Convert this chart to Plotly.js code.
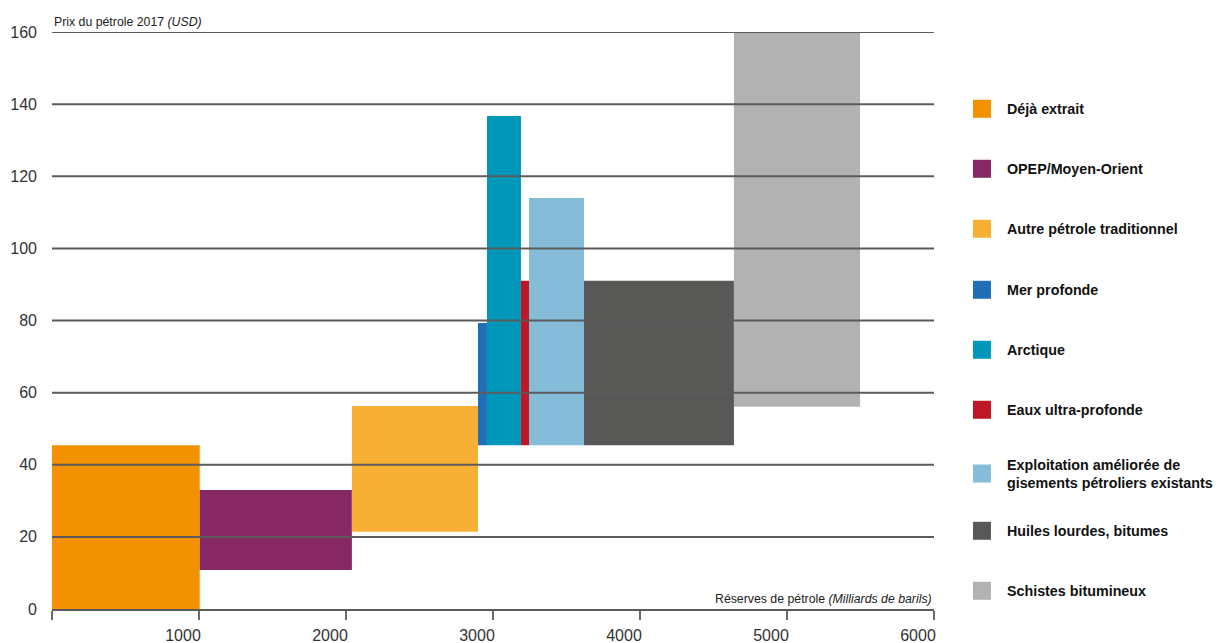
<!DOCTYPE html>
<html><head><meta charset="utf-8">
<script src="https://cdn.plot.ly/plotly-3.0.1.min.js"></script>
<style>body{margin:0;background:#fff}</style>
</head><body><div id="chart" style="width:1220px;height:643px"></div>
<script>
const categories = ['Déjà extrait', 'OPEP/Moyen-Orient', 'Autre pétrole traditionnel', 'Mer profonde', 'Arctique', 'Eaux ultra-profonde', 'Exploitation améliorée de<br>gisements pétroliers existants', 'Huiles lourdes, bitumes', 'Schistes bitumineux'];
const reserves = [1005, 1035, 858, 61, 231, 55, 374, 1020, 858];
const priceLow = [0, 10.8, 21.4, 45.4, 45.4, 45.4, 45.4, 45.4, 56.1];
const priceHigh = [45.4, 33.0, 56.3, 79.3, 136.7, 91.0, 114.0, 91.0, 160];
const colors = ['#F39200', '#872864', '#F7B033', '#1F6EB7', '#0098BA', '#C01727', '#85BCD7', '#585856', '#B2B2B2'];
const xTickVals = [0, 1000, 2000, 3000, 4000, 5000, 6000];
const xTickText = ['', '1000', '2000', '3000', '4000', '5000', '6000'];
const yTickVals = [0, 20, 40, 60, 80, 100, 120, 140, 160];
const legendY = [0.8305, 0.7372, 0.6439, 0.5490, 0.4557, 0.3624, 0.2628, 0.1742, 0.0809];

const FONT = "'Liberation Sans Narrow', 'Arial Narrow', 'Liberation Sans', Arial, sans-serif";

let cum = 0;
const traces = categories.map((name, i) => {
  const x0 = cum; cum += reserves[i];
  return {
    type: 'bar', name: name,
    x: [x0 + reserves[i] / 2], width: [reserves[i]],
    base: [priceLow[i]], y: [priceHigh[i] - priceLow[i]],
    marker: {color: colors[i], line: {width: 0}},
    legend: i === 0 ? 'legend' : 'legend' + (i + 1),
    hoverinfo: 'name'
  };
});

const layout = {
  width: 1220, height: 643,
  margin: {l: 52, r: 286, t: 32, b: 34, autoexpand: false},
  paper_bgcolor: '#fff', plot_bgcolor: '#fff',
  barmode: 'overlay',
  font: {family: FONT, color: '#333'},
  xaxis: {
    range: [0, 6000], tickvals: xTickVals, ticktext: xTickText,
    ticks: 'outside', ticklen: 9, tickwidth: 2, tickcolor: '#6a6a6a',
    showgrid: false, zeroline: false,
    showline: true, linecolor: '#5b5b5b', linewidth: 2,
    tickfont: {size: 16, color: '#333'},
    ticklabelshift: -16, ticklabelstandoff: 2,
    layer: 'above traces', fixedrange: true
  },
  yaxis: {
    range: [0, 160], tickvals: yTickVals,
    ticks: '', showgrid: false, zeroline: false, showline: false,
    tickfont: {size: 16, color: '#333'},
    ticklabelstandoff: 14, fixedrange: true
  },
  shapes: yTickVals.filter(v => v > 0).map(v => ({
    type: 'line', xref: 'paper', x0: 0, x1: 1, yref: 'y', y0: v, y1: v,
    line: {color: '#5b5b5b', width: 2}, layer: 'above'
  })),
  annotations: [
    {xref: 'paper', yref: 'paper', x: 0, y: 1, xanchor: 'left', yanchor: 'bottom',
     text: 'Prix du pétrole 2017 <i>(USD)</i>', showarrow: false, yshift: 1,
     font: {size: 12.3, color: '#222', family: FONT}},
    {xref: 'paper', yref: 'paper', x: 1, y: 0, xanchor: 'right', yanchor: 'bottom',
     text: 'Réserves de pétrole <i>(Milliards de barils)</i>', showarrow: false, yshift: 1,
     font: {size: 12.3, color: '#222', family: FONT}}
  ],
  showlegend: true
};

legendY.forEach((y, i) => {
  const key = i === 0 ? 'legend' : 'legend' + (i + 1);
  layout[key] = {
    xref: 'container', yref: 'container',
    x: 0.7844, y: y, xanchor: 'left', yanchor: 'middle',
    itemwidth: 40, bgcolor: 'rgba(0,0,0,0)', borderwidth: 0,
    font: {family: FONT, size: 14.3, color: '#111', weight: 'bold'},
    itemclick: false, itemdoubleclick: false
  };
});

Plotly.newPlot('chart', traces, layout, {displayModeBar: false, staticPlot: true}).then(() => {
  document.querySelectorAll('.legendpoints path').forEach(p => p.setAttribute('d', 'M9,9H-9V-9H9Z'));
});
</script>
</body></html>
